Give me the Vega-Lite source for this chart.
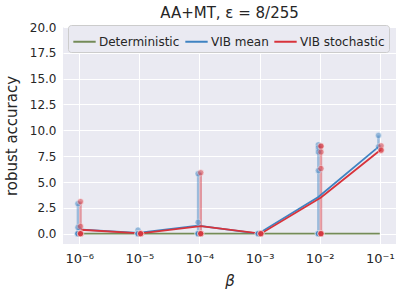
{
  "$schema": "https://vega.github.io/schema/vega-lite/v6.json",
  "autosize": "none",
  "width": 333,
  "height": 217,
  "padding": {"left": 63, "top": 27, "right": 8, "bottom": 56},
  "background": "white",
  "title": {"text": "AA+MT, ε = 8/255", "fontSize": 15, "font": "DejaVu Sans", "fontWeight": "normal", "color": "#262626", "offset": 0, "frame": "group"},
  "datasets": {
    "points": [
      {"beta": 9.5e-7, "series": "VIB mean", "acc": 2.9},
      {"beta": 9.5e-7, "series": "VIB mean", "acc": 0.6},
      {"beta": 9.5e-7, "series": "VIB mean", "acc": 0},
      {"beta": 9.5e-7, "series": "VIB mean", "acc": 0},
      {"beta": 9.5e-7, "series": "VIB mean", "acc": 0},
      {"beta": 9.5e-7, "series": "VIB mean", "acc": 0},
      {"beta": 9.5e-6, "series": "VIB mean", "acc": 0.35},
      {"beta": 9.5e-6, "series": "VIB mean", "acc": 0},
      {"beta": 9.5e-6, "series": "VIB mean", "acc": 0},
      {"beta": 9.5e-6, "series": "VIB mean", "acc": 0},
      {"beta": 9.5e-6, "series": "VIB mean", "acc": 0},
      {"beta": 9.5e-5, "series": "VIB mean", "acc": 5.8},
      {"beta": 9.5e-5, "series": "VIB mean", "acc": 1.1},
      {"beta": 9.5e-5, "series": "VIB mean", "acc": 0},
      {"beta": 9.5e-5, "series": "VIB mean", "acc": 0},
      {"beta": 9.5e-5, "series": "VIB mean", "acc": 0},
      {"beta": 9.5e-5, "series": "VIB mean", "acc": 0},
      {"beta": 9.5e-4, "series": "VIB mean", "acc": 0},
      {"beta": 9.5e-4, "series": "VIB mean", "acc": 0},
      {"beta": 9.5e-4, "series": "VIB mean", "acc": 0},
      {"beta": 9.5e-4, "series": "VIB mean", "acc": 0},
      {"beta": 9.5e-3, "series": "VIB mean", "acc": 8.6},
      {"beta": 9.5e-3, "series": "VIB mean", "acc": 8.3},
      {"beta": 9.5e-3, "series": "VIB mean", "acc": 7.9},
      {"beta": 9.5e-3, "series": "VIB mean", "acc": 6.1},
      {"beta": 9.5e-3, "series": "VIB mean", "acc": 0},
      {"beta": 9.5e-3, "series": "VIB mean", "acc": 0},
      {"beta": 9.5e-3, "series": "VIB mean", "acc": 0},
      {"beta": 9.5e-3, "series": "VIB mean", "acc": 0},
      {"beta": 9.5e-2, "series": "VIB mean", "acc": 9.5},
      {"beta": 9.5e-2, "series": "VIB mean", "acc": 8.4},
      {"beta": 1.05e-6, "series": "VIB stochastic", "acc": 3.1},
      {"beta": 1.05e-6, "series": "VIB stochastic", "acc": 0.7},
      {"beta": 1.05e-6, "series": "VIB stochastic", "acc": 0},
      {"beta": 1.05e-6, "series": "VIB stochastic", "acc": 0},
      {"beta": 1.05e-6, "series": "VIB stochastic", "acc": 0},
      {"beta": 1.05e-6, "series": "VIB stochastic", "acc": 0},
      {"beta": 1.05e-5, "series": "VIB stochastic", "acc": 0},
      {"beta": 1.05e-5, "series": "VIB stochastic", "acc": 0},
      {"beta": 1.05e-5, "series": "VIB stochastic", "acc": 0},
      {"beta": 1.05e-5, "series": "VIB stochastic", "acc": 0},
      {"beta": 1.05e-4, "series": "VIB stochastic", "acc": 5.9},
      {"beta": 1.05e-4, "series": "VIB stochastic", "acc": 0},
      {"beta": 1.05e-4, "series": "VIB stochastic", "acc": 0},
      {"beta": 1.05e-4, "series": "VIB stochastic", "acc": 0},
      {"beta": 1.05e-4, "series": "VIB stochastic", "acc": 0},
      {"beta": 1.05e-3, "series": "VIB stochastic", "acc": 0},
      {"beta": 1.05e-3, "series": "VIB stochastic", "acc": 0},
      {"beta": 1.05e-3, "series": "VIB stochastic", "acc": 0},
      {"beta": 1.05e-3, "series": "VIB stochastic", "acc": 0},
      {"beta": 1.05e-2, "series": "VIB stochastic", "acc": 8.5},
      {"beta": 1.05e-2, "series": "VIB stochastic", "acc": 8.45},
      {"beta": 1.05e-2, "series": "VIB stochastic", "acc": 7.9},
      {"beta": 1.05e-2, "series": "VIB stochastic", "acc": 6.3},
      {"beta": 1.05e-2, "series": "VIB stochastic", "acc": 0},
      {"beta": 1.05e-2, "series": "VIB stochastic", "acc": 0},
      {"beta": 1.05e-2, "series": "VIB stochastic", "acc": 0},
      {"beta": 1.05e-2, "series": "VIB stochastic", "acc": 0},
      {"beta": 1.05e-1, "series": "VIB stochastic", "acc": 8.5},
      {"beta": 1.05e-1, "series": "VIB stochastic", "acc": 8.05},
      {"beta": 1.05e-1, "series": "VIB stochastic", "acc": 8.1}
    ],
    "means": [
      {"beta": 1e-6, "series": "Deterministic", "acc": 0},
      {"beta": 1e-5, "series": "Deterministic", "acc": 0},
      {"beta": 1e-4, "series": "Deterministic", "acc": 0},
      {"beta": 1e-3, "series": "Deterministic", "acc": 0},
      {"beta": 1e-2, "series": "Deterministic", "acc": 0},
      {"beta": 1e-1, "series": "Deterministic", "acc": 0},
      {"beta": 9.5e-7, "series": "VIB mean", "acc": 0.42},
      {"beta": 9.5e-6, "series": "VIB mean", "acc": 0.07},
      {"beta": 9.5e-5, "series": "VIB mean", "acc": 0.78},
      {"beta": 9.5e-4, "series": "VIB mean", "acc": 0},
      {"beta": 9.5e-3, "series": "VIB mean", "acc": 3.55},
      {"beta": 9.5e-2, "series": "VIB mean", "acc": 8.4},
      {"beta": 1.05e-6, "series": "VIB stochastic", "acc": 0.38},
      {"beta": 1.05e-5, "series": "VIB stochastic", "acc": 0.02},
      {"beta": 1.05e-4, "series": "VIB stochastic", "acc": 0.72},
      {"beta": 1.05e-3, "series": "VIB stochastic", "acc": 0},
      {"beta": 1.05e-2, "series": "VIB stochastic", "acc": 3.5},
      {"beta": 1.05e-1, "series": "VIB stochastic", "acc": 8.15}
    ]
  },
  "layer": [
    {
      "data": {"name": "points"},
      "mark": {"type": "rule", "strokeWidth": 2.5, "opacity": 0.45},
      "encoding": {
        "x": {"field": "beta", "type": "quantitative",
          "scale": {"type": "log", "domain": [5.37e-7, 0.186], "nice": false},
          "axis": {"values": [1e-6, 1e-5, 1e-4, 1e-3, 1e-2, 1e-1], "tickCount": 10,
            "labelExpr": "['10⁻⁶','10⁻⁵','10⁻⁴','10⁻³','10⁻²','10⁻¹'][round(log(datum.value)/LN10)+6]",
            "title": "β", "titleFontStyle": "italic", "labelPadding": 8, "titlePadding": 8, "labelFontSize": 13}},
        "y": {"aggregate": "min", "field": "acc", "type": "quantitative",
          "scale": {"domain": [-1, 20], "nice": false, "zero": false},
          "axis": {"values": [0, 2.5, 5, 7.5, 10, 12.5, 15, 17.5, 20], "tickCount": 12, "format": ".1f", "title": "robust accuracy", "labelPadding": 7, "titlePadding": 10, "labelOverlap": false}},
        "y2": {"aggregate": "max", "field": "acc"},
        "color": {"field": "series", "type": "nominal", "legend": null}
      }
    },
    {
      "data": {"name": "means"},
      "mark": {"type": "line", "strokeWidth": 1.8},
      "encoding": {
        "x": {"field": "beta", "type": "quantitative"},
        "y": {"field": "acc", "type": "quantitative"},
        "color": {"field": "series", "type": "nominal",
          "scale": {"domain": ["Deterministic", "VIB mean", "VIB stochastic"], "range": ["#748b58", "#3f83c2", "#d8333b"]},
          "legend": {"orient": "none", "legendX": 5, "legendY": -2, "direction": "horizontal", "title": null,
            "symbolType": "stroke", "symbolSize": 500, "symbolStrokeWidth": 2, "labelFontSize": 12, "labelFont": "DejaVu Sans", "labelColor": "#262626",
            "labelOffset": 2, "columnPadding": 1, "padding": 4, "fillColor": "#EAEAF2", "strokeColor": "#cccccc", "cornerRadius": 3}},
        "detail": {"field": "series"}
      }
    },
    {
      "data": {"name": "points"},
      "mark": {"type": "point", "filled": true, "size": 40, "opacity": 0.5, "stroke": "white", "strokeWidth": 0.6},
      "encoding": {
        "x": {"field": "beta", "type": "quantitative"},
        "y": {"field": "acc", "type": "quantitative"},
        "color": {"field": "series", "type": "nominal", "legend": null}
      }
    }
  ],
  "resolve": {"legend": {"color": "independent"}},
  "config": {
    "view": {"stroke": null, "fill": "#EAEAF2"},
    "font": "DejaVu Sans",
    "axis": {"domain": false, "ticks": false, "grid": true, "gridColor": "white", "gridWidth": 1, "gridOpacity": 1,
      "labelFont": "DejaVu Sans", "labelFontSize": 12, "labelColor": "#262626",
      "titleFont": "DejaVu Sans", "titleFontSize": 15, "titleFontWeight": "normal", "titleColor": "#262626"}
  }
}
